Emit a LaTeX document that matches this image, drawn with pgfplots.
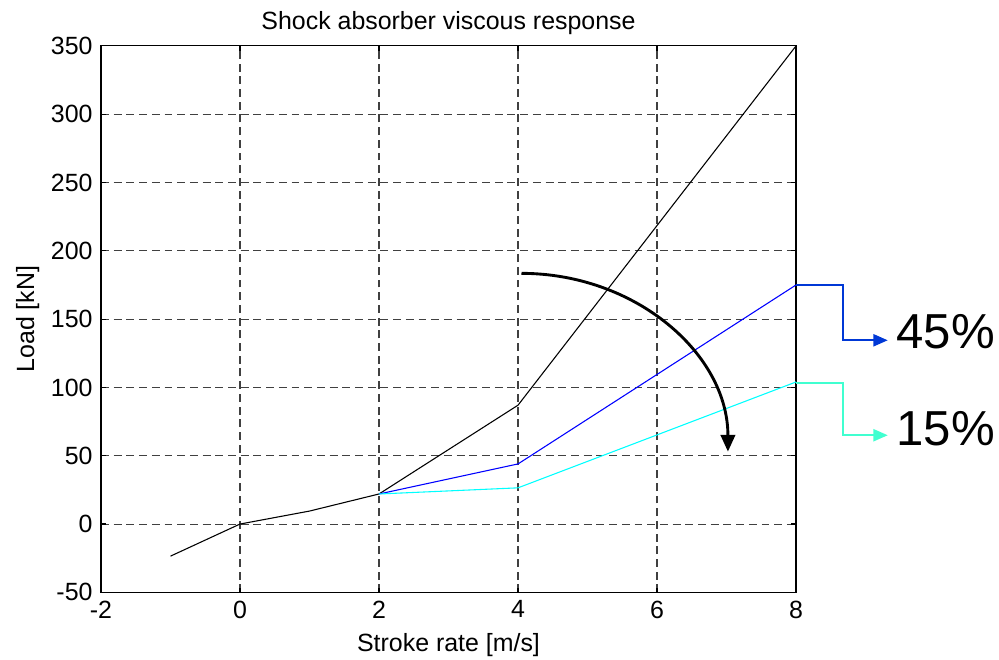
\documentclass[border=0pt]{standalone}
\usepackage{pgfplots}
\pgfplotsset{compat=1.18}
\usepackage{fontspec}
\setmainfont{Liberation Sans}
\usetikzlibrary{arrows.meta}
\definecolor{callblue}{RGB}{0,56,214}
\definecolor{callaqua}{RGB}{64,255,208}
\definecolor{purecyan}{RGB}{0,255,255}
\definecolor{pureblue}{RGB}{0,0,255}
\begin{document}
\begin{tikzpicture}
\begin{axis}[
  scale only axis,
  width=290pt, height=228pt,
  xmin=-2, xmax=8, ymin=-50, ymax=350,
  xtick={-2,0,2,4,6,8},
  ytick={-50,0,50,100,150,200,250,300,350},
  grid=major,
  major grid style={black!75, dash pattern=on 3.3pt off 2pt, line width=0.45pt},
  tick align=inside,
  tick pos=both,
  major tick length=2pt,
  axis line style={black, line width=0.5pt},
  every tick/.style={black, line width=0.5pt},
  clip=false,
  font=\fontsize{10.4}{12}\selectfont,
  tick label style={font=\fontsize{10.4}{12}\selectfont},
  /pgf/number format/assume math mode=true,
  title={Shock absorber viscous response},
  title style={yshift=-5pt},
  xlabel={Stroke rate [m/s]},
  ylabel={Load [kN]},
  xlabel style={yshift=0.5pt},
  ylabel style={yshift=-2pt},
]
\addplot[black, line width=0.45pt] coordinates {(-1,-23.5) (0,0) (1,9.5) (2,22) (4,87) (8,350)};
\addplot[pureblue, line width=0.45pt] coordinates {(2,22) (4,44) (8,175)};
\addplot[purecyan, line width=0.45pt] coordinates {(2,22) (4,26.5) (8,104)};

\draw[callblue, line width=0.9pt, -{Triangle[length=6pt,width=5pt]}]
  (axis cs:8,175) -- (axis cs:8.68,175) -- (axis cs:8.68,134.5) -- (axis cs:9.32,134.5);
\draw[callaqua, line width=0.9pt, -{Triangle[length=6pt,width=5pt]}]
  (axis cs:8,103) -- (axis cs:8.68,103) -- (axis cs:8.68,65) -- (axis cs:9.32,65);
\node[anchor=west, inner sep=0pt, font=\fontsize{20.5}{24}\selectfont] at (axis cs:9.44,141) {45\%};
\node[anchor=west, inner sep=0pt, font=\fontsize{20.5}{24}\selectfont] at (axis cs:9.44,70) {15\%};

\draw[black, line width=1.2pt, -{Triangle[length=7pt,width=6pt]}]
  (axis cs:4.05,183.5) .. controls (axis cs:5.69,183.5) and (axis cs:7.02,124.5) .. (axis cs:7.02,53);

\coordinate (bl) at (rel axis cs:-0.1453,-0.1227);
\coordinate (tr) at (rel axis cs:1.292,1.084);
\end{axis}
\pgfresetboundingbox
\path[use as bounding box] (bl) rectangle (tr);
\end{tikzpicture}
\end{document}
